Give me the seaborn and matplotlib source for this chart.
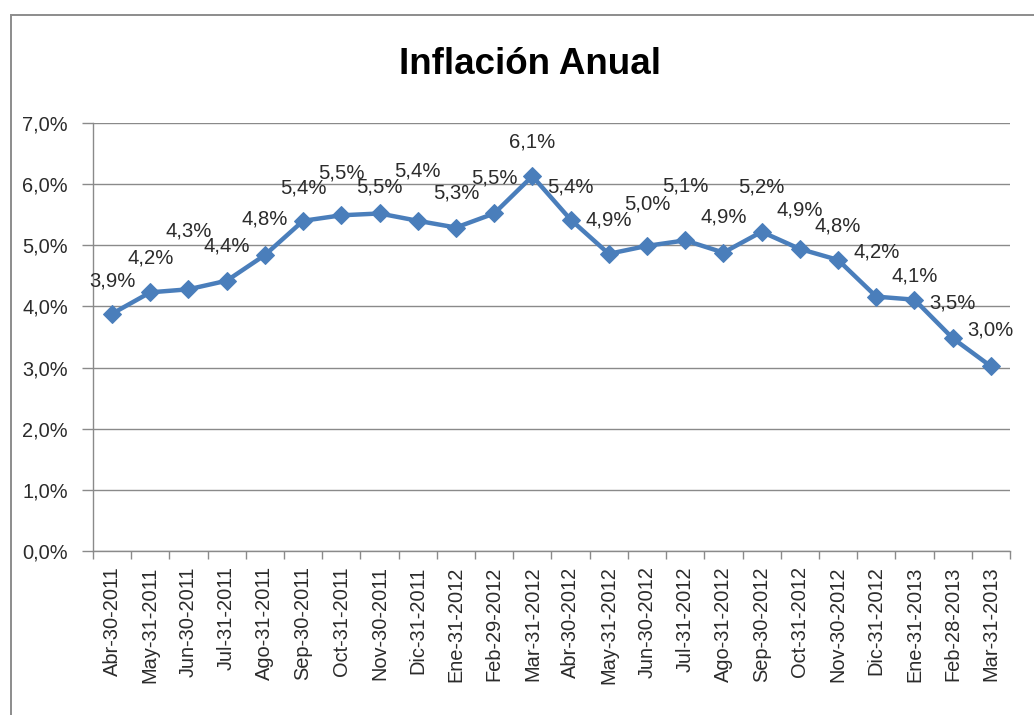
import matplotlib
matplotlib.use("Agg")
import matplotlib.pyplot as plt
from matplotlib.patches import Rectangle
import seaborn as sns
import pandas as pd

# Monthly annual inflation (%), April 2011 - March 2013
fechas = [
    "Abr-30-2011", "May-31-2011", "Jun-30-2011", "Jul-31-2011", "Ago-31-2011",
    "Sep-30-2011", "Oct-31-2011", "Nov-30-2011", "Dic-31-2011", "Ene-31-2012",
    "Feb-29-2012", "Mar-31-2012", "Abr-30-2012", "May-31-2012", "Jun-30-2012",
    "Jul-31-2012", "Ago-31-2012", "Sep-30-2012", "Oct-31-2012", "Nov-30-2012",
    "Dic-31-2012", "Ene-31-2013", "Feb-28-2013", "Mar-31-2013",
]
inflacion = [
    3.88, 4.23, 4.28, 4.42, 4.84, 5.40, 5.49, 5.52, 5.40, 5.29, 5.52, 6.13,
    5.42, 4.86, 4.99, 5.08, 4.88, 5.22, 4.94, 4.76, 4.16, 4.11, 3.48, 3.02,
]
y_ticks = [0, 1, 2, 3, 4, 5, 6, 7]

# vertical nudge of each data label above its marker (pixels)
label_dy = [33, 34, 58, 35, 36, 33, 42, 26, 50, 35, 35, 34,
            33, 34, 42, 54, 36, 45, 39, 34, 45, 24, 35, 36]

df = pd.DataFrame({"fecha": fechas, "inflacion": inflacion})

sns.set_theme(style="white")
plt.rcParams["font.family"] = ["Liberation Sans", "DejaVu Sans"]

fig = plt.figure(figsize=(10.34, 7.15), dpi=100)
ax = fig.add_axes([0.0899, 0.2294, 0.9768 - 0.0899, 0.828 - 0.2294])

# outer chart frame
fig.patches.append(Rectangle((11 / 1034, -0.05), 1.2, 1 - 15 / 715 + 0.05,
                             transform=fig.transFigure, fill=False,
                             edgecolor="#8c8c8c", linewidth=1.4, zorder=0))

line_color = "#4a7ebb"
sns.lineplot(data=df, x="fecha", y="inflacion", sort=False, ax=ax,
             color=line_color, linewidth=3.2, marker="D", markersize=9,
             markeredgecolor=line_color, markerfacecolor=line_color,
             zorder=3)

n = len(fechas)
ax.set_xlim(-0.5, n - 0.5)
ax.set_ylim(y_ticks[0], y_ticks[-1])

# y axis: percent with comma decimal separator
ax.set_yticks(y_ticks)
ax.set_yticklabels([f"{v:.1f}%".replace(".", ",") for v in y_ticks])
ax.yaxis.grid(True, color="#8a8a8a", linewidth=1.0)
ax.set_axisbelow(True)

# x axis: labels centred in each category, tick marks on boundaries
ax.set_xticks(range(n))
ax.set_xticklabels(fechas, rotation=90)
ax.set_xticks([i - 0.5 for i in range(n + 1)], minor=True)
ax.tick_params(axis="x", which="major", length=0, pad=11, labelsize=14.4,
               labelcolor="#2b2b2b")
ax.tick_params(axis="x", which="minor", length=6, width=1.0, color="#8a8a8a",
               direction="out", bottom=True)
ax.tick_params(axis="y", which="major", length=8, width=1.0, color="#8a8a8a",
               direction="out", left=True, pad=10, labelsize=14.4,
               labelcolor="#2b2b2b")

for side in ["top", "right"]:
    ax.spines[side].set_visible(False)
for side in ["left", "bottom"]:
    ax.spines[side].set_color("#8a8a8a")
    ax.spines[side].set_linewidth(1.0)

ax.set_xlabel("")
ax.set_ylabel("")

# data labels
for i, (v, dy) in enumerate(zip(inflacion, label_dy)):
    ax.annotate(f"{v:.1f}%".replace(".", ","), (i, v),
                xytext=(0, dy), textcoords="offset pixels",
                ha="center", va="center", fontsize=14.6, color="#2b2b2b",
                zorder=4)

fig.text(0.513, 1 - 64 / 715, "Inflación Anual", ha="center", va="center",
         fontsize=26.5, fontweight="bold", color="#000000")

fig.savefig("out.png", dpi=100, facecolor="white")
